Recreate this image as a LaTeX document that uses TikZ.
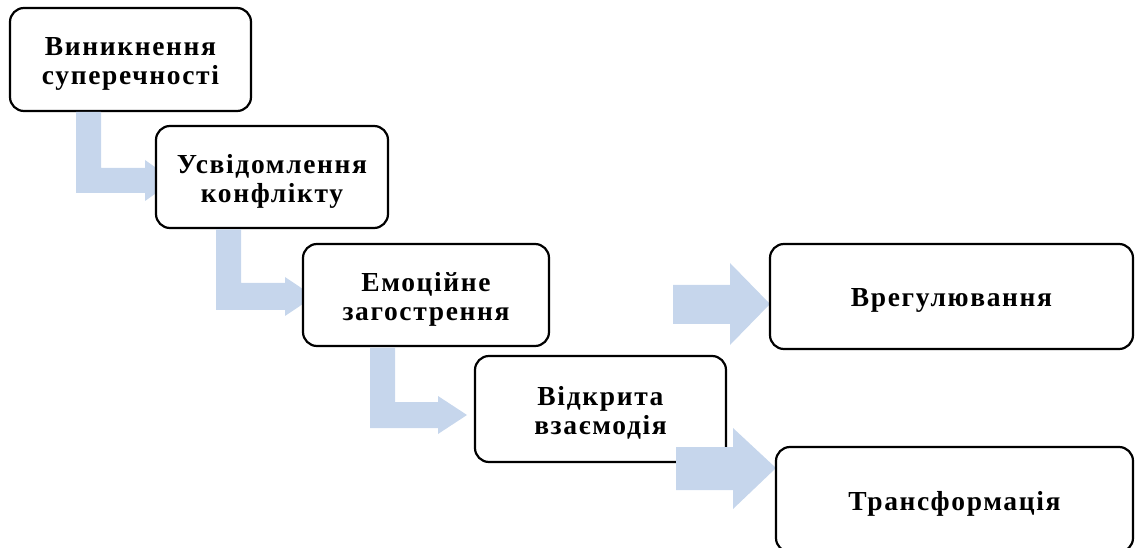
\documentclass[tikz,border=0pt]{standalone}
\usepackage{fontspec}
\setmainfont{Liberation Serif}
\definecolor{arrowblue}{RGB}{198,214,236}
\tikzset{
  box/.style={draw=black, line width=2.2pt, rounded corners=14pt, fill=white, inner sep=0pt},
  lbl/.style={align=center, inner sep=0pt, yshift=-4pt,
    font=\fontsize{27.5}{29}\selectfont\bfseries\addfontfeature{LetterSpace=6}},
  arr/.style={fill=arrowblue, draw=none}
}
\begin{document}
\begin{tikzpicture}[x=1pt, y=-1pt]
\useasboundingbox (0,0) rectangle (1136,548);
\node[box, minimum width=241pt, minimum height=103pt] (b1) at (130.5,59.5) {};
\node[lbl] (t1) at (b1.center) {Виникнення\\суперечності};
\fill[arr] (76,112) -- (101,112) -- (101,168) -- (145,168) -- (145,160) -- (174,180.5) -- (145,201) -- (145,193) -- (76,193) -- cycle;
\node[box, minimum width=232pt, minimum height=102pt] (b2) at (272,177) {};
\node[lbl] (t2) at (b2.center) {Усвідомлення\\конфлікту};
\fill[arr] (216,229.5) -- (241,229.5) -- (241,283) -- (285,283) -- (285,277) -- (314,296.5) -- (285,316) -- (285,310) -- (216,310) -- cycle;
\node[box, minimum width=246pt, minimum height=102pt] (b3) at (426,295) {};
\node[lbl] (t3) at (b3.center) {Емоційне\\загострення};
\fill[arr] (370,347.5) -- (395,347.5) -- (395,402) -- (438,402) -- (438,396) -- (467,415) -- (438,434) -- (438,428) -- (370,428) -- cycle;
\node[box, minimum width=251pt, minimum height=106pt] (b4) at (600.5,409) {};
\node[lbl] (t4) at (b4.center) {Відкрита\\взаємодія};
\fill[arr] (673,285) -- (730,285) -- (730,263) -- (770,304) -- (730,345) -- (730,324) -- (673,324) -- cycle;
\fill[arr] (676,447) -- (733,447) -- (733,428) -- (776,468) -- (733,509) -- (733,490) -- (676,490) -- cycle;
\node[box, minimum width=363pt, minimum height=105pt] (b5) at (951.5,296.5) {};
\node[lbl] (t5) at (b5.center) {Врегулювання};
\node[box, minimum width=357pt, minimum height=105pt] (b6) at (954.5,499.5) {};
\node[lbl] (t6) at (b6.center) {Трансформація};
\end{tikzpicture}
\end{document}
